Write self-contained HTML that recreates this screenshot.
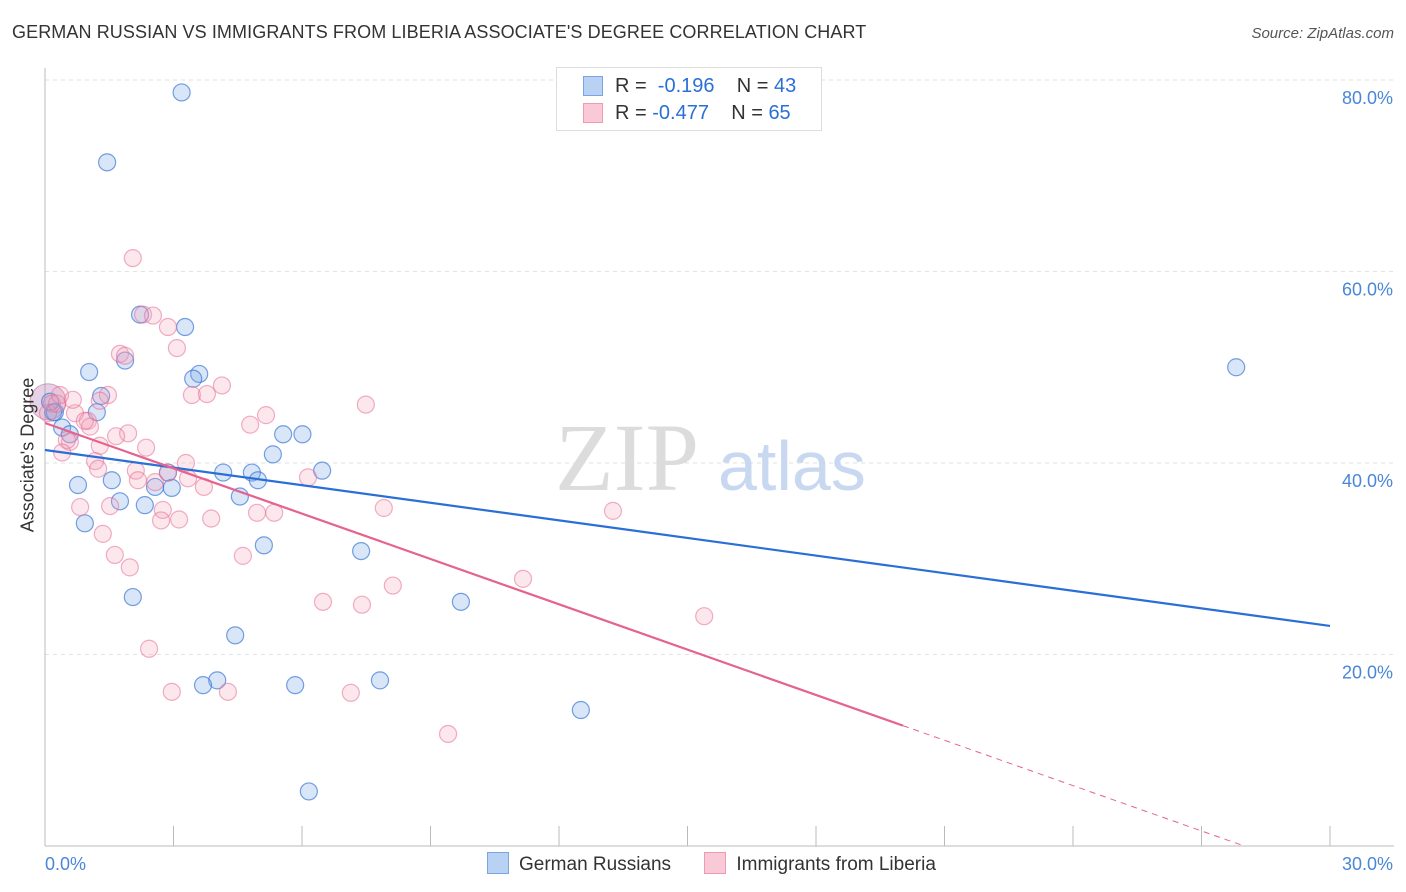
<!DOCTYPE html>
<html><head><meta charset="utf-8"><style>
body{margin:0;background:#fff;font-family:"Liberation Sans",sans-serif}
svg{display:block}
</style></head><body>
<svg id="chart" width="1406" height="892"></svg>
<script>
const blueX=[3.19,1.45,2.22,3.27,1.03,1.87,3.60,3.46,1.31,1.21,0.19,0.40,0.58,5.56,6.01,5.32,6.47,4.16,4.83,2.87,4.97,1.56,0.77,2.57,2.96,4.55,1.75,2.33,0.93,5.11,7.38,2.05,9.71,4.44,4.02,3.69,5.84,7.82,12.51,6.16,27.81,0.23,0.12];
const blueY=[78.7,71.4,55.5,54.2,49.5,50.7,49.3,48.8,47.0,45.3,45.3,43.7,43.0,43.0,43.0,40.9,39.2,39.0,39.0,39.0,38.2,38.2,37.7,37.5,37.4,36.5,36.0,35.6,33.7,31.4,30.8,26.0,25.5,22.0,17.3,16.8,16.8,17.3,14.2,5.7,50.0,45.3,46.4];
const pinkX=[2.05,2.29,2.52,2.87,3.08,1.75,1.87,3.43,4.13,1.47,3.78,7.49,0.16,0.07,0.28,0.70,1.00,1.05,5.16,4.79,1.94,1.66,2.36,1.28,0.58,0.51,3.29,0.40,1.17,1.24,2.12,2.87,3.34,2.17,2.57,3.71,6.14,13.26,0.82,1.52,2.75,4.95,5.35,7.91,2.71,3.13,3.88,1.35,1.63,4.62,1.98,11.16,8.12,6.49,7.40,15.39,2.43,2.96,4.27,7.14,9.41,1.28,0.35,0.93,0.65];
const pinkY=[61.4,55.5,55.4,54.2,52.0,51.4,51.2,47.1,48.1,47.1,47.2,46.1,46.2,45.2,46.2,45.2,44.4,43.8,45.0,44.0,43.1,42.8,41.6,41.8,42.2,42.4,40.0,41.1,40.2,39.4,39.2,39.0,38.4,38.2,38.0,37.5,38.5,35.0,35.4,35.5,35.1,34.8,34.8,35.3,34.0,34.1,34.2,32.6,30.4,30.3,29.1,27.9,27.2,25.5,25.2,24.0,20.6,16.1,16.1,16.0,11.7,46.5,47.1,44.4,46.6];
const blueLine=[41.36,22.98];
const pinkLine=[44.18,-3.16];
const xTicks=[0,30];
const yTicks=[20,40,60,80];
const L=45,R=1330,T0=846;
const sx=v=>L+v*(R-L)/30, sy=v=>T0-v*766/80;
const svg=document.getElementById('chart');const NS='http://www.w3.org/2000/svg';
function mk(t,a,p){const e=document.createElementNS(NS,t);for(const k in a)e.setAttribute(k,a[k]);(p||svg).appendChild(e);return e;}
yTicks.forEach(v=>{const g=mk('line',{x1:L,x2:1394,y1:sy(v),y2:sy(v),stroke:'#e2e2e2','stroke-dasharray':'4,4'});


const t=mk('text',{x:1393,y:sy(v)+24,'text-anchor':'end','font-size':18,fill:'#4a86d8'});t.textContent=v.toFixed(1)+'%';

});
const ax=mk('line',{x1:L,x2:L,y1:68,y2:846,stroke:'#bbb'});


const xa=mk('line',{x1:L,x2:1394,y1:846,y2:846,stroke:'#bbb'});


for(let i=0;i<=10;i++){const tk=mk('line',{x1:sx(i*3),x2:sx(i*3),y1:826,y2:846,stroke:'#bbb'});

}
xTicks.forEach((v,i)=>{const t=mk('text',{x:i?1393:45,y:870,'text-anchor':i?'end':'start','font-size':18,fill:'#4a86d8'});t.textContent=v.toFixed(1)+'%';

});
const wm=mk('text',{x:555,y:490,'font-size':96,fill:'#dcdcdc','font-family':'Liberation Serif,serif'});wm.textContent='ZIP';


const wm2=mk('text',{x:718,y:490,'font-size':70,fill:'#c8d8f0'});wm2.textContent='atlas';


const big=mk('circle',{cx:sx(0.07),cy:sy(46.4),r:18,fill:'rgba(180,130,180,0.35)',stroke:'rgba(190,110,160,0.6)'});


blueX.forEach((x,i)=>{const c=mk('circle',{cx:sx(x),cy:sy(blueY[i]),r:8.5,fill:'rgba(120,165,230,0.28)',stroke:'rgba(60,120,215,0.7)','stroke-width':1.2});

});
pinkX.forEach((x,i)=>{const c=mk('circle',{cx:sx(x),cy:sy(pinkY[i]),r:8.5,fill:'rgba(245,160,185,0.25)',stroke:'rgba(230,110,150,0.55)','stroke-width':1.2});

});
const bl=mk('line',{x1:sx(0),y1:sy(blueLine[0]),x2:sx(30),y2:sy(blueLine[1]),stroke:'#2a6fd6','stroke-width':2.2});


const pk=(pinkLine[1]-pinkLine[0])/30, xs=20.03, xe=-pinkLine[0]/pk;
const pl=mk('line',{x1:sx(0),y1:sy(pinkLine[0]),x2:sx(xs),y2:sy(pinkLine[0]+pk*xs),stroke:'#e4638f','stroke-width':2.2});


const pd=mk('line',{x1:sx(xs),y1:sy(pinkLine[0]+pk*xs),x2:sx(xe),y2:sy(0),stroke:'#e4638f','stroke-width':1,'stroke-dasharray':'6,5'});


</script>
<div style="position:absolute;left:12px;top:22px;font-size:18px;color:#333;letter-spacing:0.1px">GERMAN RUSSIAN VS IMMIGRANTS FROM LIBERIA ASSOCIATE'S DEGREE CORRELATION CHART</div>
<div style="position:absolute;right:12px;top:25px;font-size:15px;color:#555;font-style:italic">Source: ZipAtlas.com</div>
<div style="position:absolute;left:28px;top:455px;transform:translate(-50%,-50%) rotate(-90deg);font-size:18px;color:#333;white-space:nowrap">Associate's Degree</div>
<div style="position:absolute;left:556px;top:67px;width:264px;height:62px;border:1px solid #ddd;background:#fff;font-size:20px;color:#333">
<div style="position:absolute;left:26px;top:8px;width:18px;height:18px;background:#b9d1f3;border:1px solid #7aa5e3"></div>
<div style="position:absolute;left:58px;top:7px">R = &nbsp;<span style="color:#2a6fd6">-0.196</span>&nbsp;&nbsp;&nbsp; N = <span style="color:#2a6fd6">43</span></div>
<div style="position:absolute;left:26px;top:35px;width:18px;height:18px;background:#f9c9d7;border:1px solid #ee9ab3"></div>
<div style="position:absolute;left:58px;top:34px">R = <span style="color:#2a6fd6">-0.477</span>&nbsp;&nbsp;&nbsp; N = <span style="color:#2a6fd6">65</span></div>
</div>
<div style="position:absolute;left:487px;top:852px;font-size:19px;color:#333;white-space:nowrap">
<span><span style="display:inline-block;width:20px;height:20px;background:#b9d1f3;border:1px solid #7aa5e3;vertical-align:-4px;margin-right:10px"></span>German Russians</span>
<span style="margin-left:28px"><span style="display:inline-block;width:20px;height:20px;background:#f9c9d7;border:1px solid #ee9ab3;vertical-align:-4px;margin-right:10px"></span>Immigrants from Liberia</span>
</div>
</body></html>
